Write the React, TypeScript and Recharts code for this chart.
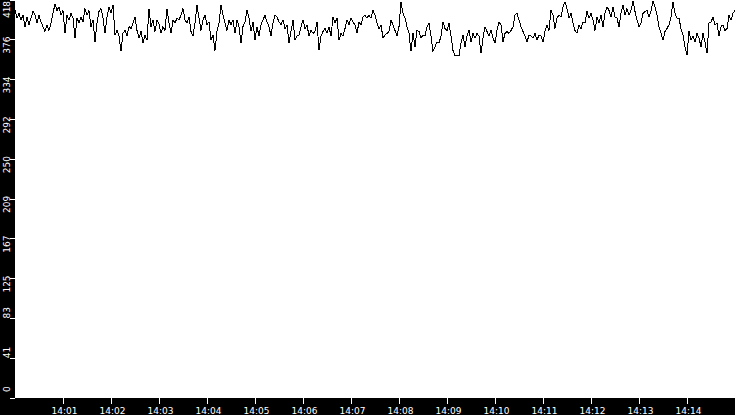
import React from 'react'
import { LineChart, Line, XAxis, YAxis, CartesianGrid } from 'recharts'

// seconds after 14:00, one sample every 2.5 s
const STEP = 2.5

const xTicks = [60, 120, 180, 240, 300, 360, 420, 480, 540, 600, 660, 720, 780, 840]
const xTickLabels = [
  '14:01', '14:02', '14:03', '14:04', '14:05', '14:06', '14:07',
  '14:08', '14:09', '14:10', '14:11', '14:12', '14:13', '14:14',
]

const yTicks = [0, 41.8, 83.6, 125.4, 167.2, 209, 250.8, 292.6, 334.4, 376.2, 418]
const yTickLabels = ['0', '41', '83', '125', '167', '209', '250', '292', '334', '376', '418']

const load = [
  // 14:00 - 14:03
  407, 399, 404, 397, 402, 390, 400, 392, 399, 406, 402, 394, 402, 395, 390, 385, 392, 386, 394, 404,
  414, 407, 411, 402, 407, 383, 402, 397, 404, 399, 378, 399, 394, 400, 395, 409, 402, 407, 390, 397,
  374, 394, 406, 409, 399, 383, 400, 411, 404, 413, 381, 386, 380, 364, 383, 386, 380, 390, 388, 394,
  400, 386, 378, 385, 373, 381, 376, 409, 390, 397, 385, 397,
  // 14:03 - 14:06
  393, 383, 390, 386, 409, 394, 383, 397, 394, 399, 397, 402, 409, 397, 394, 400, 385, 380, 394, 413,
  399, 386, 397, 402, 392, 395, 376, 381, 365, 385, 394, 413, 402, 394, 386, 397, 392, 397, 383, 397,
  390, 373, 390, 395, 407, 399, 385, 395, 376, 390, 380, 392, 397, 402, 395, 390, 380, 394, 402, 400,
  395, 392, 397, 388, 392, 373, 385, 397, 376, 380, 381, 390,
  // 14:06 - 14:09
  397, 388, 392, 380, 386, 383, 385, 395, 365, 380, 385, 388, 383, 390, 380, 400, 394, 399, 376, 383,
  380, 388, 397, 392, 399, 395, 392, 383, 395, 392, 400, 402, 399, 402, 399, 407, 402, 394, 388, 392,
  378, 381, 383, 385, 397, 392, 386, 380, 390, 416, 404, 399, 390, 383, 364, 383, 369, 386, 385, 378,
  381, 380, 390, 394, 380, 364, 369, 374, 373, 380, 395, 388,
  // 14:09 - 14:12
  386, 394, 380, 365, 359, 360, 359, 373, 381, 369, 380, 386, 374, 383, 378, 383, 380, 362, 378, 390,
  385, 380, 386, 378, 373, 386, 395, 392, 374, 383, 385, 383, 386, 390, 402, 404, 397, 390, 385, 380,
  374, 381, 380, 378, 383, 376, 381, 380, 374, 385, 392, 386, 407, 402, 388, 399, 402, 400, 411, 416,
  409, 399, 404, 394, 386, 383, 392, 388, 395, 394, 406, 399,
  // 14:12 - 14:15
  404, 397, 386, 400, 394, 402, 390, 404, 411, 407, 400, 411, 400, 399, 390, 404, 413, 402, 409, 402,
  407, 417, 406, 397, 390, 394, 404, 406, 407, 400, 406, 417, 411, 402, 390, 383, 376, 385, 388, 392,
  400, 416, 404, 399, 399, 388, 381, 369, 360, 385, 376, 380, 374, 383, 378, 369, 383, 374, 362, 394,
  395, 400, 392, 394, 380, 390, 392, 386, 388, 402, 397, 404, 407,
]

const data = load.map((v, i) => ({ t: i * STEP, v }))

const FONT = '"DejaVu Sans", Verdana, sans-serif'

// rotated y labels: where the first glyph sits relative to the tick, by label length
const yLabelShift: Record<number, number> = { 1: -6, 2: 0, 3: 14 }

function YTick(props: any) {
  const { y, payload } = props
  const idx = yTicks.indexOf(payload.value)
  const label = idx >= 0 ? yTickLabels[idx] : String(Math.floor(payload.value))
  const len = label.length * 5.7
  let bottom = y + (yLabelShift[label.length] ?? 0)
  if (bottom - len < 1) bottom = len + 1
  return (
    <text
      x={10}
      y={bottom}
      transform={`rotate(-90 10 ${bottom})`}
      textAnchor="start"
      fill="#fff"
      fontSize={9}
      fontFamily={FONT}
    >
      {label}
    </text>
  )
}

function XTick(props: any) {
  const { x, payload } = props
  const idx = xTicks.indexOf(payload.value)
  return (
    <text x={x + 1.5} y={414} textAnchor="middle" fill="#fff" fontSize={9} fontFamily={FONT}>
      {idx >= 0 ? xTickLabels[idx] : ''}
    </text>
  )
}

export default function App() {
  return (
    <div style={{ position: 'absolute', left: 0, top: 0, width: 735, height: 415, background: '#000' }}>
      <LineChart width={735} height={415} data={data} margin={{ top: 0, right: 0, left: 0, bottom: 0 }}>
        <CartesianGrid fill="#fff" horizontal={false} vertical={false} stroke="none" />
        <XAxis
          dataKey="t"
          type="number"
          domain={[0, 900]}
          ticks={xTicks}
          height={17}
          tickSize={6}
          axisLine={false}
          tickLine={{ stroke: '#fff', shapeRendering: 'crispEdges' }}
          tick={<XTick />}
          interval={0}
        />
        <YAxis
          type="number"
          domain={[0, 418]}
          ticks={yTicks}
          width={15}
          tickSize={5}
          axisLine={false}
          tickLine={{ stroke: '#fff', shapeRendering: 'crispEdges' }}
          tick={<YTick />}
          interval={0}
        />
        <Line
          type="linear"
          dataKey="v"
          stroke="#000"
          strokeWidth={1}
          shapeRendering="crispEdges"
          dot={false}
          activeDot={false}
          isAnimationActive={false}
        />
      </LineChart>
    </div>
  )
}
